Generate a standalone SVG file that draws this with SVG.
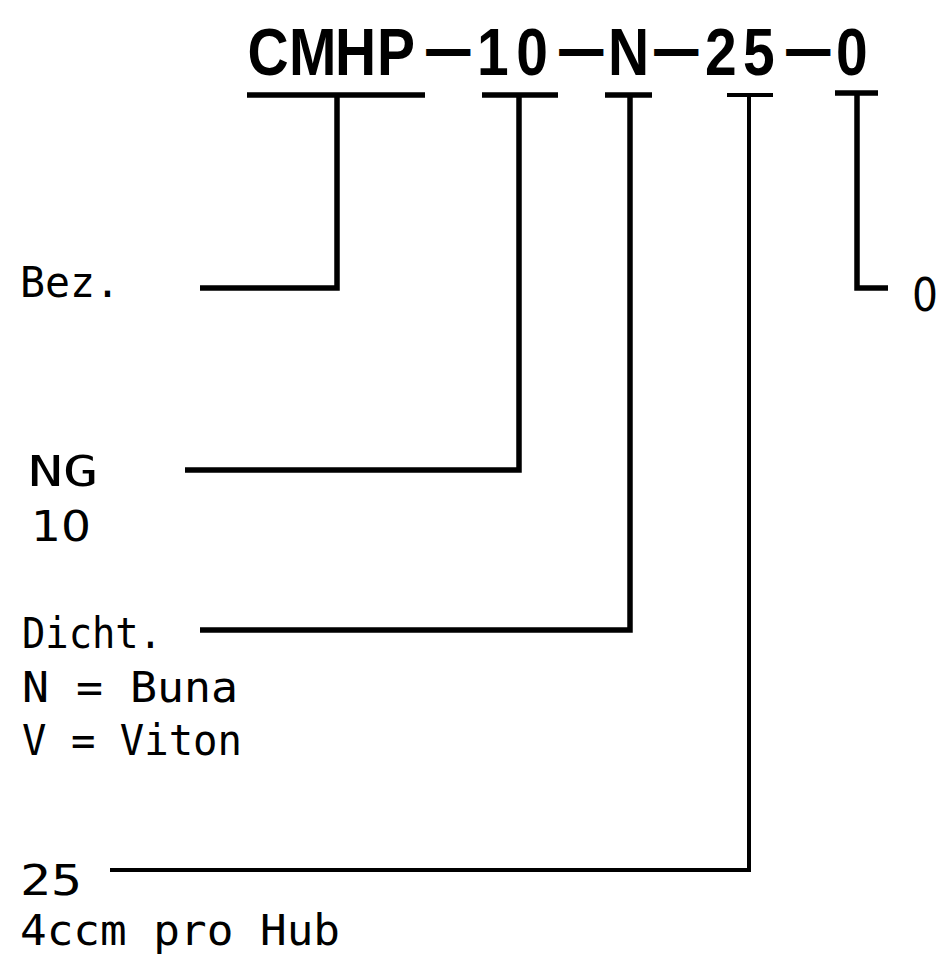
<svg xmlns="http://www.w3.org/2000/svg" width="940" height="960" viewBox="0 0 940 960">
<style>
.t{font-family:"DejaVu Sans Mono","Liberation Mono",monospace;font-size:43px;fill:#000}
.p{font-family:"DejaVu Sans","Liberation Sans",sans-serif}
.h{font-family:"Liberation Sans",Arial,sans-serif;font-size:67px;font-weight:bold;fill:#000}
.d{font-size:50px;stroke:#000;stroke-width:2}
.z{font-size:46px}
.c{fill:none;stroke:#000;stroke-width:5.5;stroke-linecap:butt;stroke-linejoin:miter}
.c2{fill:none;stroke:#000;stroke-width:4}
</style>
<rect width="940" height="960" fill="#fff"/>
<g id="title"><text class="h" transform="scale(0.85 1)"><tspan x="291.2 340 394.1 443.5" y="75">CMHP</tspan><tspan class="d" x="502.4" y="66">—</tspan><tspan x="561.2 607.4" y="75">10</tspan><tspan class="d" x="658.8" y="66">—</tspan><tspan x="715.3" y="75">N</tspan><tspan class="d" x="770.6" y="66">—</tspan><tspan x="829.4 874.1" y="75">25</tspan><tspan class="d" x="925.9" y="66">—</tspan><tspan x="983.5" y="75">0</tspan></text></g>
<g id="connectors">
<path class="c" d="M247 95H425M337 95V288H200"/>
<path class="c" d="M482 95H558M519 95V470H185"/>
<path class="c" d="M605 95H652M630 95V630H200"/>
<path class="c2" d="M727 95H773M749 95V870H110"/>
<path class="c" d="M835 93H878M857 93V288H888"/>
</g>
<g id="bez"><text class="t" x="20" y="297" textLength="100" lengthAdjust="spacingAndGlyphs">Bez.</text></g>
<g id="ng"><text class="t" x="28" y="486" textLength="70" lengthAdjust="spacingAndGlyphs">NG</text><text class="t p" x="31" y="541" textLength="60" lengthAdjust="spacingAndGlyphs">10</text></g>
<g id="dicht"><text class="t" x="22" y="648" textLength="140" lengthAdjust="spacingAndGlyphs">Dicht.</text><text class="t" x="22" y="702" textLength="216" lengthAdjust="spacingAndGlyphs">N = Buna</text><text class="t" x="22" y="755" textLength="220" lengthAdjust="spacingAndGlyphs">V = Viton</text></g>
<g id="hub"><text class="t" x="20" y="895" textLength="62" lengthAdjust="spacingAndGlyphs">25</text><text class="t" x="20" y="945" textLength="320" lengthAdjust="spacingAndGlyphs">4ccm pro Hub</text></g>
<g id="zero"><text class="t p z" x="912" y="311" textLength="26" lengthAdjust="spacingAndGlyphs">0</text></g>
</svg>
